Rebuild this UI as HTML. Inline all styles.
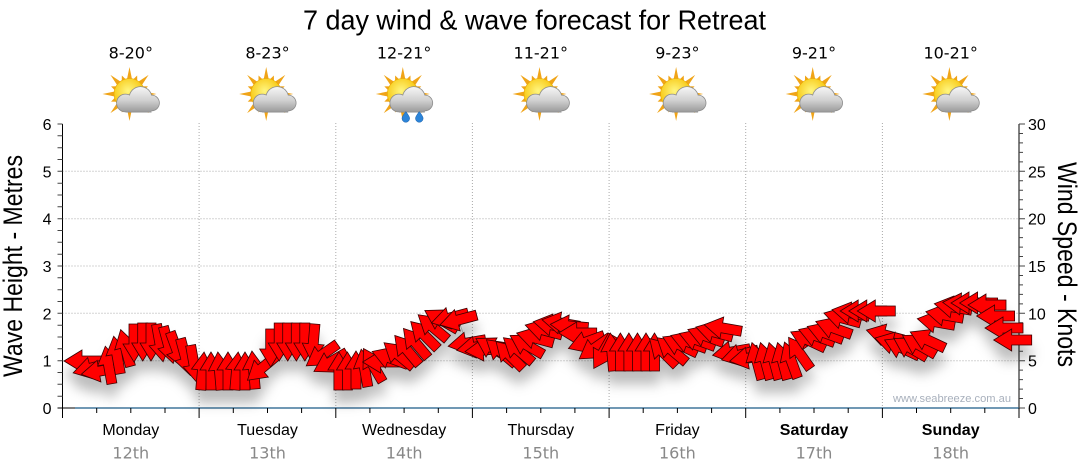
<!DOCTYPE html>
<html><head><meta charset="utf-8"><style>
html,body{margin:0;padding:0;background:#fff;}
svg{display:block;}
</style></head><body>
<svg width="1080" height="475" viewBox="0 0 1080 475" xmlns="http://www.w3.org/2000/svg">
<defs>
 <polygon id="ar" points="19,0 1,-11 1,-5 -19,-5 -19,5 1,5 1,11" fill="#ff0000" stroke="#3a0000" stroke-width="0.8"/>
 <filter id="sh" x="-10%" y="-60%" width="120%" height="260%">
  <feGaussianBlur in="SourceAlpha" stdDeviation="6"/>
  <feOffset dy="13" result="b"/>
  <feFlood flood-color="#000" flood-opacity="0.26"/>
  <feComposite in2="b" operator="in"/>
  <feMerge><feMergeNode/><feMergeNode in="SourceGraphic"/></feMerge>
 </filter>
 <radialGradient id="sun" cx="0.45" cy="0.4" r="0.6">
  <stop offset="0" stop-color="#fff680"/><stop offset="1" stop-color="#f6c000"/>
 </radialGradient>
 <linearGradient id="cl" gradientUnits="userSpaceOnUse" x1="0" y1="-7" x2="0" y2="18">
  <stop offset="0" stop-color="#f6f6f6"/><stop offset="0.55" stop-color="#cfcfcf"/><stop offset="1" stop-color="#9a9a9a"/>
 </linearGradient>
 <g id="ic">
  <polygon fill="#f0a418" points="27,0 13.73,2.73 18.48,7.66 11.63,7.78 19.09,19.09 7.78,11.63 7.66,18.48 2.73,13.73 0,27 -2.73,13.73 -7.66,18.48 -7.78,11.63 -19.09,19.09 -11.63,7.78 -18.48,7.66 -13.73,2.73 -27,0 -13.73,-2.73 -18.48,-7.66 -11.63,-7.78 -19.09,-19.09 -7.78,-11.63 -7.66,-18.48 -2.73,-13.73 0,-27 2.73,-13.73 7.66,-18.48 7.78,-11.63 19.09,-19.09 11.63,-7.78 18.48,-7.66 13.73,-2.73"/>
  <circle cx="0" cy="0" r="15.5" fill="url(#sun)" stroke="#e8a800" stroke-width="0.6"/>
  <g fill="#8c8c8c">
   <circle cx="-4" cy="9" r="9.3"/><circle cx="11" cy="4" r="11.8"/><circle cx="22" cy="9" r="8.3"/><rect x="-4" y="7" width="26" height="11.5"/>
  </g>
  <g fill="url(#cl)">
   <circle cx="-4" cy="9" r="8.5"/><circle cx="11" cy="4" r="11"/><circle cx="22" cy="9" r="7.5"/><rect x="-4" y="8" width="26" height="9.7"/>
  </g>
 </g>
</defs>

<rect width="1080" height="475" fill="#fff"/>

<!-- title -->
<text x="534.5" y="29.5" text-anchor="middle" font-family="Liberation Sans, Arial, sans-serif" font-size="28" textLength="463" lengthAdjust="spacingAndGlyphs" fill="#000">7 day wind &amp; wave forecast for Retreat</text>

<!-- temps -->
<g font-family="DejaVu Sans, Verdana, sans-serif" font-size="16" text-anchor="middle" fill="#000">
 <text x="130.8" y="58.3">8-20°</text>
 <text x="267.5" y="58.3">8-23°</text>
 <text x="404.1" y="58.3">12-21°</text>
 <text x="540.8" y="58.3">11-21°</text>
 <text x="677.4" y="58.3">9-23°</text>
 <text x="814" y="58.3">9-21°</text>
 <text x="950.7" y="58.3">10-21°</text>
</g>

<!-- icons -->
<use href="#ic" transform="translate(129.5,94)"/>
<use href="#ic" transform="translate(266.2,94)"/>
<use href="#ic" transform="translate(402.8,94)"/>
<use href="#ic" transform="translate(539.5,94)"/>
<use href="#ic" transform="translate(676.1,94)"/>
<use href="#ic" transform="translate(812.7,94)"/>
<use href="#ic" transform="translate(949.4,94)"/>
<g fill="#2c84d8" stroke="#1a5fa8" stroke-width="0.5">
 <path d="M405.8,111.5 Q410,117 409.6,118.5 A3.8,3.8 0 0 1 402,118.5 Q401.6,117 405.8,111.5Z"/>
 <path d="M419.3,111.5 Q423.5,117 423.1,118.5 A3.8,3.8 0 0 1 415.5,118.5 Q415.1,117 419.3,111.5Z"/>
</g>

<!-- grid -->
<g stroke="#aaaaaa" stroke-width="1" stroke-dasharray="1,2" fill="none">
 <path d="M62.5,171.3H1019M62.5,218.7H1019M62.5,266H1019M62.5,313.3H1019M62.5,360.7H1019"/>
 <path d="M199.1,123V408M335.8,123V408M472.4,123V408M609.1,123V408M745.7,123V408M882.4,123V408"/>
</g>

<!-- axes -->
<g stroke="#000" stroke-width="1" fill="none">
 <path d="M62.5,124V418M1019,124V408"/>
 <path d="M57.5,408H75"/>
</g>
<path d="M75,408H1019" stroke="#1b5a86" stroke-width="1.2"/>
<g stroke="#444" stroke-width="1" fill="none">
 <path d="M57.5,124H62.5M57.5,135.8H62.5M57.5,147.7H62.5M57.5,159.5H62.5M57.5,171.3H62.5M57.5,183.2H62.5M57.5,195H62.5M57.5,206.8H62.5M57.5,218.7H62.5M57.5,230.5H62.5M57.5,242.3H62.5M57.5,254.2H62.5M57.5,266H62.5M57.5,277.8H62.5M57.5,289.7H62.5M57.5,301.5H62.5M57.5,313.3H62.5M57.5,325.2H62.5M57.5,337H62.5M57.5,348.8H62.5M57.5,360.7H62.5M57.5,372.5H62.5M57.5,384.3H62.5M57.5,396.2H62.5"/>
 <path d="M1019,124H1025M1019,133.5H1023M1019,142.9H1023M1019,152.4H1023M1019,161.9H1023M1019,171.3H1025M1019,180.8H1023M1019,190.3H1023M1019,199.7H1023M1019,209.2H1023M1019,218.7H1025M1019,228.1H1023M1019,237.6H1023M1019,247.1H1023M1019,256.5H1023M1019,266H1025M1019,275.5H1023M1019,284.9H1023M1019,294.4H1023M1019,303.9H1023M1019,313.3H1025M1019,322.8H1023M1019,332.3H1023M1019,341.7H1023M1019,351.2H1023M1019,360.7H1025M1019,370.1H1023M1019,379.6H1023M1019,389.1H1023M1019,398.5H1023M1019,408H1025"/>
</g>
<g stroke="#000" stroke-width="1" fill="none">
 <path d="M199.1,408V418M335.8,408V418M472.4,408V418M609.1,408V418M745.7,408V418M882.4,408V418M1019,408V418"/>
 <path d="M96.7,408V413M130.8,408V413M165,408V413M233.3,408V413M267.5,408V413M301.6,408V413M369.9,408V413M404.1,408V413M438.3,408V413M506.6,408V413M540.8,408V413M574.9,408V413M643.2,408V413M677.4,408V413M711.6,408V413M779.9,408V413M814,408V413M848.2,408V413M916.5,408V413M950.7,408V413M984.8,408V413"/>
</g>

<!-- tick labels -->
<g font-family="Liberation Sans, Arial, sans-serif" font-size="16" fill="#000">
 <g text-anchor="end">
  <text x="51.5" y="130">6</text>
  <text x="51.5" y="177.3">5</text>
  <text x="51.5" y="224.7">4</text>
  <text x="51.5" y="272">3</text>
  <text x="51.5" y="319.3">2</text>
  <text x="51.5" y="366.7">1</text>
  <text x="51.5" y="414">0</text>
 </g>
 <g text-anchor="start">
  <text x="1028" y="130">30</text>
  <text x="1028" y="177.3">25</text>
  <text x="1028" y="224.7">20</text>
  <text x="1028" y="272">15</text>
  <text x="1028" y="319.3">10</text>
  <text x="1028" y="366.7">5</text>
  <text x="1028" y="414">0</text>
 </g>
</g>

<!-- axis titles -->
<text transform="translate(22,266) rotate(-90)" text-anchor="middle" font-family="Liberation Sans, Arial, sans-serif" font-size="27" textLength="222" lengthAdjust="spacingAndGlyphs" fill="#000">Wave Height - Metres</text>
<text transform="translate(1058,264.5) rotate(90)" text-anchor="middle" font-family="Liberation Sans, Arial, sans-serif" font-size="27" textLength="205" lengthAdjust="spacingAndGlyphs" fill="#000">Wind Speed - Knots</text>

<!-- day labels -->
<g font-family="Liberation Sans, Arial, sans-serif" font-size="16" text-anchor="middle" fill="#000">
 <text x="130.8" y="435">Monday</text>
 <text x="267.5" y="435">Tuesday</text>
 <text x="404.1" y="435">Wednesday</text>
 <text x="540.8" y="435">Thursday</text>
 <text x="677.4" y="435">Friday</text>
 <text x="814" y="435" font-weight="bold">Saturday</text>
 <text x="950.7" y="435" font-weight="bold">Sunday</text>
</g>
<g font-family="DejaVu Sans, Verdana, sans-serif" font-size="16" text-anchor="middle" fill="#888">
 <text x="130.8" y="458.3">12th</text>
 <text x="267.5" y="458.3">13th</text>
 <text x="404.1" y="458.3">14th</text>
 <text x="540.8" y="458.3">15th</text>
 <text x="677.4" y="458.3">16th</text>
 <text x="814" y="458.3">17th</text>
 <text x="950.7" y="458.3">18th</text>
</g>

<!-- watermark -->
<text x="893" y="402" font-family="Liberation Sans, Arial, sans-serif" font-size="11" fill="#a8b0bc" textLength="118" lengthAdjust="spacingAndGlyphs">www.seabreeze.com.au</text>

<!-- wind arrows -->
<g filter="url(#sh)">
<polyline fill="none" stroke="#999" stroke-width="1" points="83,361 91.5,368 100,371 108.6,365 117,355 125.6,348 134,343 142.7,342 151,342 159.8,343 168.3,345 176.8,350 185.4,357 193.9,364 202.4,371 211,371 219.5,371 228,371 236.5,371 245,371 253.6,370 262,368 270.7,348 279.2,342 287.7,342 296.3,342 304.8,342 313.3,343 321.8,355 330.4,362 338.9,371 347.4,371 356,370 364.5,368 373,365 381.6,362 390,358 398.6,355 407,350 415.7,343 424.2,335 432.7,327 441.3,320 449.8,318 458.3,320 466.9,343 475.4,347 483.9,350 492.4,348 501,352 509.5,355 518,350 526.6,345 535,338 543.6,330 552,325 560.7,323 569.2,326 577.7,333 586.3,342 594.8,348 603.3,352 611.9,352 620.4,352 628.9,352 637.5,352 646,352 654.5,352 663,352 671.6,350 680,345 688.6,342 697.2,340 705.7,336 714.2,332 722.8,328 731.3,352 739.8,355 748.3,358 756.9,361 765.4,361 774,361 782.5,361 791,360 799.5,353 808,340 816.6,336 825.1,333 833.6,328 842.2,318 850.7,313 859.2,311 867.8,311 876.3,311 884.8,335 893.3,343 901.9,348 910.4,348 919,345 927.5,340 936,322 944.5,315 953,307 961.6,304 970,303 978.6,303 987,305 995.6,316 1004,328 1012.7,340"/>
<use href="#ar" transform="translate(83,361) rotate(180)"/>
<use href="#ar" transform="translate(91.5,368) rotate(165)"/>
<use href="#ar" transform="translate(100,371) rotate(170)"/>
<use href="#ar" transform="translate(108.6,365) rotate(-100)"/>
<use href="#ar" transform="translate(117,355) rotate(-100)"/>
<use href="#ar" transform="translate(125.6,348) rotate(-105)"/>
<use href="#ar" transform="translate(134,343) rotate(90)"/>
<use href="#ar" transform="translate(142.7,342) rotate(90)"/>
<use href="#ar" transform="translate(151,342) rotate(90)"/>
<use href="#ar" transform="translate(159.8,343) rotate(80)"/>
<use href="#ar" transform="translate(168.3,345) rotate(75)"/>
<use href="#ar" transform="translate(176.8,350) rotate(70)"/>
<use href="#ar" transform="translate(185.4,357) rotate(75)"/>
<use href="#ar" transform="translate(193.9,364) rotate(80)"/>
<use href="#ar" transform="translate(202.4,371) rotate(-85)"/>
<use href="#ar" transform="translate(211,371) rotate(-90)"/>
<use href="#ar" transform="translate(219.5,371) rotate(-95)"/>
<use href="#ar" transform="translate(228,371) rotate(-90)"/>
<use href="#ar" transform="translate(236.5,371) rotate(-85)"/>
<use href="#ar" transform="translate(245,371) rotate(-90)"/>
<use href="#ar" transform="translate(253.6,370) rotate(-95)"/>
<use href="#ar" transform="translate(262,368) rotate(140)"/>
<use href="#ar" transform="translate(270.7,348) rotate(90)"/>
<use href="#ar" transform="translate(279.2,342) rotate(90)"/>
<use href="#ar" transform="translate(287.7,342) rotate(90)"/>
<use href="#ar" transform="translate(296.3,342) rotate(90)"/>
<use href="#ar" transform="translate(304.8,342) rotate(90)"/>
<use href="#ar" transform="translate(313.3,343) rotate(95)"/>
<use href="#ar" transform="translate(321.8,355) rotate(145)"/>
<use href="#ar" transform="translate(330.4,362) rotate(150)"/>
<use href="#ar" transform="translate(338.9,371) rotate(-90)"/>
<use href="#ar" transform="translate(347.4,371) rotate(-90)"/>
<use href="#ar" transform="translate(356,370) rotate(-90)"/>
<use href="#ar" transform="translate(364.5,368) rotate(-100)"/>
<use href="#ar" transform="translate(373,365) rotate(-120)"/>
<use href="#ar" transform="translate(381.6,362) rotate(180)"/>
<use href="#ar" transform="translate(390,358) rotate(-160)"/>
<use href="#ar" transform="translate(398.6,355) rotate(-140)"/>
<use href="#ar" transform="translate(407,350) rotate(-130)"/>
<use href="#ar" transform="translate(415.7,343) rotate(-130)"/>
<use href="#ar" transform="translate(424.2,335) rotate(-135)"/>
<use href="#ar" transform="translate(432.7,327) rotate(-140)"/>
<use href="#ar" transform="translate(441.3,320) rotate(-150)"/>
<use href="#ar" transform="translate(449.8,318) rotate(165)"/>
<use href="#ar" transform="translate(458.3,320) rotate(165)"/>
<use href="#ar" transform="translate(466.9,343) rotate(170)"/>
<use href="#ar" transform="translate(475.4,347) rotate(170)"/>
<use href="#ar" transform="translate(483.9,350) rotate(175)"/>
<use href="#ar" transform="translate(492.4,348) rotate(-150)"/>
<use href="#ar" transform="translate(501,352) rotate(-140)"/>
<use href="#ar" transform="translate(509.5,355) rotate(-135)"/>
<use href="#ar" transform="translate(518,350) rotate(-140)"/>
<use href="#ar" transform="translate(526.6,345) rotate(-150)"/>
<use href="#ar" transform="translate(535,338) rotate(-165)"/>
<use href="#ar" transform="translate(543.6,330) rotate(-165)"/>
<use href="#ar" transform="translate(552,325) rotate(-170)"/>
<use href="#ar" transform="translate(560.7,323) rotate(-170)"/>
<use href="#ar" transform="translate(569.2,326) rotate(-175)"/>
<use href="#ar" transform="translate(577.7,333) rotate(180)"/>
<use href="#ar" transform="translate(586.3,342) rotate(160)"/>
<use href="#ar" transform="translate(594.8,348) rotate(145)"/>
<use href="#ar" transform="translate(603.3,352) rotate(120)"/>
<use href="#ar" transform="translate(611.9,352) rotate(-95)"/>
<use href="#ar" transform="translate(620.4,352) rotate(-90)"/>
<use href="#ar" transform="translate(628.9,352) rotate(-90)"/>
<use href="#ar" transform="translate(637.5,352) rotate(-90)"/>
<use href="#ar" transform="translate(646,352) rotate(-90)"/>
<use href="#ar" transform="translate(654.5,352) rotate(-90)"/>
<use href="#ar" transform="translate(663,352) rotate(-135)"/>
<use href="#ar" transform="translate(671.6,350) rotate(-140)"/>
<use href="#ar" transform="translate(680,345) rotate(-155)"/>
<use href="#ar" transform="translate(688.6,342) rotate(-160)"/>
<use href="#ar" transform="translate(697.2,340) rotate(-160)"/>
<use href="#ar" transform="translate(705.7,336) rotate(-160)"/>
<use href="#ar" transform="translate(714.2,332) rotate(-165)"/>
<use href="#ar" transform="translate(722.8,328) rotate(-170)"/>
<use href="#ar" transform="translate(731.3,352) rotate(170)"/>
<use href="#ar" transform="translate(739.8,355) rotate(165)"/>
<use href="#ar" transform="translate(748.3,358) rotate(170)"/>
<use href="#ar" transform="translate(756.9,361) rotate(-105)"/>
<use href="#ar" transform="translate(765.4,361) rotate(-105)"/>
<use href="#ar" transform="translate(774,361) rotate(-105)"/>
<use href="#ar" transform="translate(782.5,361) rotate(-105)"/>
<use href="#ar" transform="translate(791,360) rotate(-110)"/>
<use href="#ar" transform="translate(799.5,353) rotate(-125)"/>
<use href="#ar" transform="translate(808,340) rotate(-155)"/>
<use href="#ar" transform="translate(816.6,336) rotate(-160)"/>
<use href="#ar" transform="translate(825.1,333) rotate(-160)"/>
<use href="#ar" transform="translate(833.6,328) rotate(-160)"/>
<use href="#ar" transform="translate(842.2,318) rotate(-165)"/>
<use href="#ar" transform="translate(850.7,313) rotate(-170)"/>
<use href="#ar" transform="translate(859.2,311) rotate(180)"/>
<use href="#ar" transform="translate(867.8,311) rotate(180)"/>
<use href="#ar" transform="translate(876.3,311) rotate(180)"/>
<use href="#ar" transform="translate(884.8,335) rotate(-165)"/>
<use href="#ar" transform="translate(893.3,343) rotate(-165)"/>
<use href="#ar" transform="translate(901.9,348) rotate(-155)"/>
<use href="#ar" transform="translate(910.4,348) rotate(-150)"/>
<use href="#ar" transform="translate(919,345) rotate(-150)"/>
<use href="#ar" transform="translate(927.5,340) rotate(-155)"/>
<use href="#ar" transform="translate(936,322) rotate(-170)"/>
<use href="#ar" transform="translate(944.5,315) rotate(-170)"/>
<use href="#ar" transform="translate(953,307) rotate(-170)"/>
<use href="#ar" transform="translate(961.6,304) rotate(-175)"/>
<use href="#ar" transform="translate(970,303) rotate(180)"/>
<use href="#ar" transform="translate(978.6,303) rotate(180)"/>
<use href="#ar" transform="translate(987,305) rotate(180)"/>
<use href="#ar" transform="translate(995.6,316) rotate(180)"/>
<use href="#ar" transform="translate(1004,328) rotate(180)"/>
<use href="#ar" transform="translate(1012.7,340) rotate(180)"/>
</g>
</svg>
</body></html>
